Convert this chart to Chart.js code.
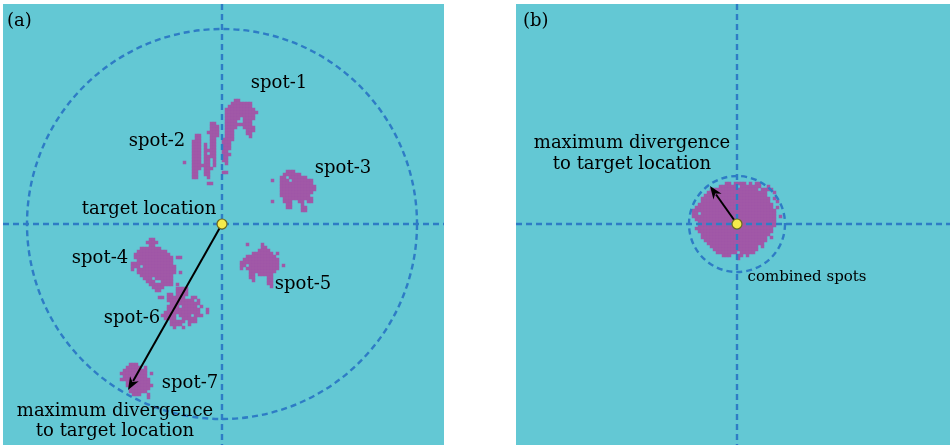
<!DOCTYPE html>
<html>
<head>
<meta charset="utf-8">
<script src="https://cdn.jsdelivr.net/npm/chart.js@4/dist/chart.umd.min.js"></script>
<style>
  body { margin: 0; background: #fff; width: 950px; height: 447px; position: relative; overflow: hidden; }
  .panel { position: absolute; }
</style>
</head>
<body>
<div class="panel" style="left:3px;top:4px;width:441px;height:441px"><canvas id="chart-a" width="441" height="441"></canvas></div>
<div class="panel" style="left:516px;top:4px;width:434px;height:441px"><canvas id="chart-b" width="434" height="441"></canvas></div>
<script>
// grid unit of the spot images, in the same units as the axes
const cellSize = 3;

// (a) individual spots: top-left corner of each image (target location = 0,0) and pixel masks
const spotLabels = ['spot-1', 'spot-2', 'spot-3', 'spot-4', 'spot-5', 'spot-6', 'spot-7'];
const spotOrigins = [[0, 125], [-39, 102], [49, 54], [-91, -14], [18, -19], [-64, -63], [-102, -139]];
const spotMasks = [
  [ // spot-1
    '....##......',
    '...#######..',
    '..########..',
    '.##########.',
    '.###########',
    '.##########.',
    '.#####.####.',
    '.####..###..',
    '.#########..',
    '.####..####.',
    '.###....###.',
    '.###....##..',
    '.###.....#..',
    '####........',
    '###.........',
    '###.........',
    '###.........',
    '##..........',
    '###.........',
    '##..........',
    '##..........',
    '.#..........',
    '............',
    '............',
    '##..........'
  ],
  [ // spot-2
    '.........##.',
    '.........###',
    '.........###',
    '........####',
    '....##...###',
    '....##...##.',
    '...###...##.',
    '...###.#.##.',
    '...###.#.##.',
    '...###.####.',
    '...###.#.##.',
    '...###.####.',
    '...###.##.#.',
    '#..###.##.#.',
    '...######.#.',
    '...###.###..',
    '...##..##...',
    '...##..##...',
    '...##...#...',
    '............',
    '........##..'
  ],
  [ // spot-3
    '.....###.......',
    '....######.....',
    '...##.######...',
    '#..###.#######.',
    '...###########.',
    '...############',
    '...############',
    '...###########.',
    '...##########..',
    '....##########.',
    '#...###..##.##.',
    '.....##...#....',
    '.....##...##...',
    '..........##...'
  ],
  [ // spot-4
    '......##.........',
    '.....####........',
    '......##.........',
    '...#######.......',
    '..##########.....',
    '.############....',
    '.#############.##',
    '..############...',
    '##############...',
    '###.###########..',
    '#.#############..',
    '..#############.#',
    '...###########...',
    '....###.######...',
    '.....###..####...',
    '......########.#.',
    '.......####......',
    '........##.......'
  ],
  [ // spot-5
    '..#....#.......',
    '.......##......',
    '......####.....',
    '....#######.#..',
    '..##########...',
    '.############..',
    '#############..',
    '##.##########.#',
    '#.###########..',
    '...#########...',
    '...##.#####....',
    '...##....##....',
    '....#....##....',
    '.........##....',
    '..........#....'
  ],
  [ // spot-6
    '......####.......',
    '......####.......',
    '...##.####.......',
    '##.######..##....',
    '...#########.#...',
    '....##########...',
    '...####.#####.#..',
    '...###########..#',
    '..############..#',
    '.#####.####.###..',
    '..####..#####....',
    '....#####.###....',
    '....####..#......',
    '.....#..#........'
  ],
  [ // spot-7
    '...###.....',
    '..#####.#..',
    '.########..',
    '#########.#',
    '.########..',
    '##########.',
    '..########.',
    '..#########',
    '...#######.',
    '...######..',
    '....###..#.',
    '.........#.'
  ]
];

// (b) combined spots
const combinedOrigin = [-45, 42];
const combinedMask = [
  '...........##.####.#.##.......',
  '.........######.#######..#....',
  '......################.####...',
  '.....####################..#..',
  '....#####################.....',
  '...#######################.#..',
  '...#######################..#.',
  '..#########################...',
  '.##########################.#.',
  '############################..',
  '##.#########################..',
  '############################.#',
  '.###########################..',
  '..##########################..',
  '..##########################..',
  '.##########################...',
  '..#########################...',
  '...#######################....',
  '...######################.#...',
  '....#####################.....',
  '.....###################......',
  '......################.#......',
  '.......###############........',
  '........#######.#####.........',
  '..........###..##.#...........',
  '...............#..............'
];

// maximum divergence circles and arrows (from target location)
const divergenceRadiusA = 195;
const divergenceRadiusB = 48;
const arrowTipA = [-94, -166];
const arrowTipB = [-27, 38];

// text: [label, x, y (baseline), align]
const textA = [
  ['(a)', -215, 198, 'left'],
  ['spot-1', 57, 136, 'center'],
  ['spot-2', -65, 78, 'center'],
  ['spot-3', 121, 51, 'center'],
  ['target location', -73, 10, 'center'],
  ['spot-4', -122, -39, 'center'],
  ['spot-5', 81, -65, 'center'],
  ['spot-6', -90, -99, 'center'],
  ['spot-7', -32, -164, 'center'],
  ['maximum divergence', -107, -192, 'center'],
  ['to target location', -107, -212, 'center']
];
const textB = [
  ['(b)', -214, 198, 'left'],
  ['maximum divergence', -105, 76, 'center'],
  ['to target location', -105, 55, 'center']
];
const textBSmall = [
  ['combined spots', 70, -57, 'center']
];

function maskPoints(origin, rows) {
  const pts = [];
  rows.forEach((row, i) => {
    [...row].forEach((c, j) => {
      if (c === '#') pts.push({ x: origin[0] + cellSize * j + cellSize / 2, y: origin[1] - cellSize * i - cellSize / 2 });
    });
  });
  return pts;
}

const spotColor = '#A158A7';
const lineColor = '#2E7CC5';

const panelPlugin = {
  id: 'panel',
  beforeDraw(chart) {
    const { ctx, chartArea: a } = chart;
    ctx.save();
    ctx.fillStyle = '#63C8D4';
    ctx.fillRect(a.left, a.top, a.width, a.height);
    ctx.restore();
  },
  afterDatasetsDraw(chart, args, opts) {
    const { ctx, chartArea: a } = chart;
    const x = chart.scales.x, y = chart.scales.y;
    const cx = x.getPixelForValue(0), cy = y.getPixelForValue(0);
    ctx.save();
    ctx.strokeStyle = lineColor;
    ctx.lineWidth = 2.4;
    ctx.setLineDash([6, 4]);
    ctx.beginPath();
    ctx.moveTo(a.left, cy); ctx.lineTo(a.right, cy);
    ctx.moveTo(cx, a.top); ctx.lineTo(cx, a.bottom);
    ctx.stroke();
    const r = x.getPixelForValue(opts.radius) - cx;
    ctx.beginPath();
    ctx.arc(cx, cy, r, 0, Math.PI * 2);
    ctx.stroke();
    ctx.setLineDash([]);

    // arrow
    const tx = x.getPixelForValue(opts.arrow[0]), ty = y.getPixelForValue(opts.arrow[1]);
    const ang = Math.atan2(ty - cy, tx - cx);
    const head = 13, hw = 5;
    ctx.strokeStyle = '#000';
    ctx.fillStyle = '#000';
    ctx.lineWidth = 2;
    ctx.beginPath();
    ctx.moveTo(cx, cy);
    ctx.lineTo(tx - Math.cos(ang) * head * 0.8, ty - Math.sin(ang) * head * 0.8);
    ctx.stroke();
    ctx.beginPath();
    ctx.moveTo(tx, ty);
    ctx.lineTo(tx - Math.cos(ang) * head + Math.sin(ang) * hw, ty - Math.sin(ang) * head - Math.cos(ang) * hw);
    ctx.lineTo(tx - Math.cos(ang) * head * 0.7, ty - Math.sin(ang) * head * 0.7);
    ctx.lineTo(tx - Math.cos(ang) * head - Math.sin(ang) * hw, ty - Math.sin(ang) * head + Math.cos(ang) * hw);
    ctx.closePath();
    ctx.fill();

    // target location marker
    ctx.beginPath();
    ctx.arc(cx, cy, 5, 0, Math.PI * 2);
    ctx.fillStyle = '#F4EA4C';
    ctx.fill();
    ctx.lineWidth = 1.2;
    ctx.strokeStyle = '#6E6A1E';
    ctx.stroke();

    // texts
    ctx.fillStyle = '#000';
    ctx.textBaseline = 'alphabetic';
    const draw = (list, font) => {
      ctx.font = font;
      list.forEach(([t, tx2, ty2, al]) => {
        ctx.textAlign = al;
        ctx.fillText(t, x.getPixelForValue(tx2), y.getPixelForValue(ty2));
      });
    };
    draw(opts.texts, '18px "DejaVu Serif"');
    if (opts.smallTexts) draw(opts.smallTexts, '15px "DejaVu Serif"');
    ctx.restore();
  }
};

function makeChart(id, datasets, xr, opts) {
  return new Chart(document.getElementById(id), {
    type: 'scatter',
    data: { datasets },
    options: {
      responsive: false,
      animation: false,
      layout: { padding: 0, autoPadding: false },
      plugins: {
        legend: { display: false },
        tooltip: { enabled: false },
        panel: opts
      },
      scales: {
        x: { type: 'linear', min: xr[0], max: xr[1], display: false },
        y: { type: 'linear', min: -221, max: 220, display: false }
      }
    },
    plugins: [panelPlugin]
  });
}

const spotDataset = (label, data) => ({
  label, data,
  pointStyle: 'rect',
  pointRadius: 2.45,
  pointBorderWidth: 0,
  backgroundColor: spotColor,
  borderColor: spotColor
});

makeChart('chart-a',
  spotLabels.map((s, i) => spotDataset(s, maskPoints(spotOrigins[i], spotMasks[i]))),
  [-219, 222],
  { radius: divergenceRadiusA, arrow: arrowTipA, texts: textA });

makeChart('chart-b',
  [spotDataset('combined spots', maskPoints(combinedOrigin, combinedMask))],
  [-221, 213],
  { radius: divergenceRadiusB, arrow: arrowTipB, texts: textB, smallTexts: textBSmall });
</script>
</body>
</html>
